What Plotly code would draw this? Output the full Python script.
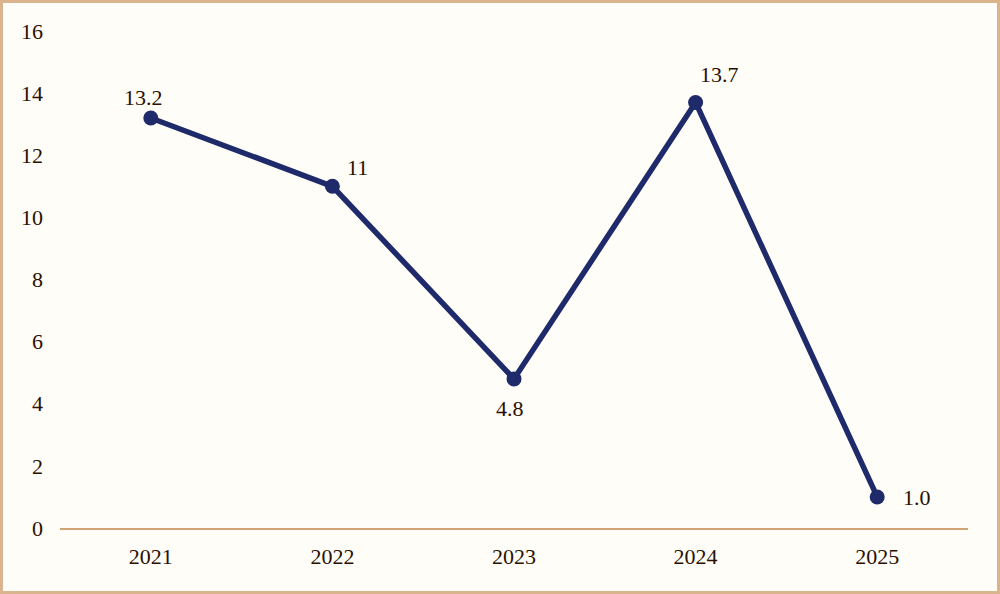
import plotly.graph_objects as go

years = ["2021", "2022", "2023", "2024", "2025"]
values = [13.2, 11, 4.8, 13.7, 1.0]
labels = ["13.2", "11", "4.8", "13.7", "1.0"]
# label offsets from the marker (pixels): (dx, dy up)
label_dx = [-7, 25, -4, 24, 40]
label_dy = [20, 19, -30, 28, -1]

W, H = 1000, 594
ml, mr, mt, mb = 60, 32, 31, 66
pw, ph = W - ml - mr, H - mt - mb

font_color = "#2a1000"
fs = 22
fig = go.Figure()
fig.add_trace(go.Scatter(
    x=years, y=values, mode="lines+markers",
    line=dict(color="#1e2a6a", width=5.5),
    marker=dict(color="#1e2a6a", size=15),
    cliponaxis=False, hoverinfo="skip",
))

for i, (v, t, dx, dy) in enumerate(zip(values, labels, label_dx, label_dy)):
    fig.add_annotation(x=i, y=v, text=t, showarrow=False, xshift=dx, yshift=dy,
                       xanchor="center", yanchor="middle",
                       font=dict(family="Liberation Serif", size=fs, color=font_color))

fig.update_layout(
    width=W, height=H,
    margin=dict(l=ml, r=mr, t=mt, b=mb),
    paper_bgcolor="#fffdf8", plot_bgcolor="#fffdf8",
    showlegend=False,
    font=dict(family="Liberation Serif", size=fs, color=font_color),
    xaxis=dict(type="category", range=[-0.5, 4.5], showgrid=False, zeroline=False,
               showline=True, linecolor="#d2a473", linewidth=2, ticks="",
               tickfont=dict(size=fs, color=font_color), ticklabelstandoff=8),
    yaxis=dict(range=[0, 16], dtick=2, showgrid=False, zeroline=False, showline=False,
               ticks="", tickfont=dict(size=fs, color=font_color), ticklabelstandoff=16),
    shapes=[dict(type="rect", xref="paper", yref="paper",
                 x0=(-ml + 1.5) / pw, x1=(pw + mr - 1.5) / pw,
                 y0=(-mb + 1.5) / ph, y1=(ph + mt - 1.5) / ph,
                 line=dict(color="#d9b48c", width=3), layer="below")],
)
fig.write_html("out.html", config={"displayModeBar": False},
               post_script="document.body.style.margin='0';")
